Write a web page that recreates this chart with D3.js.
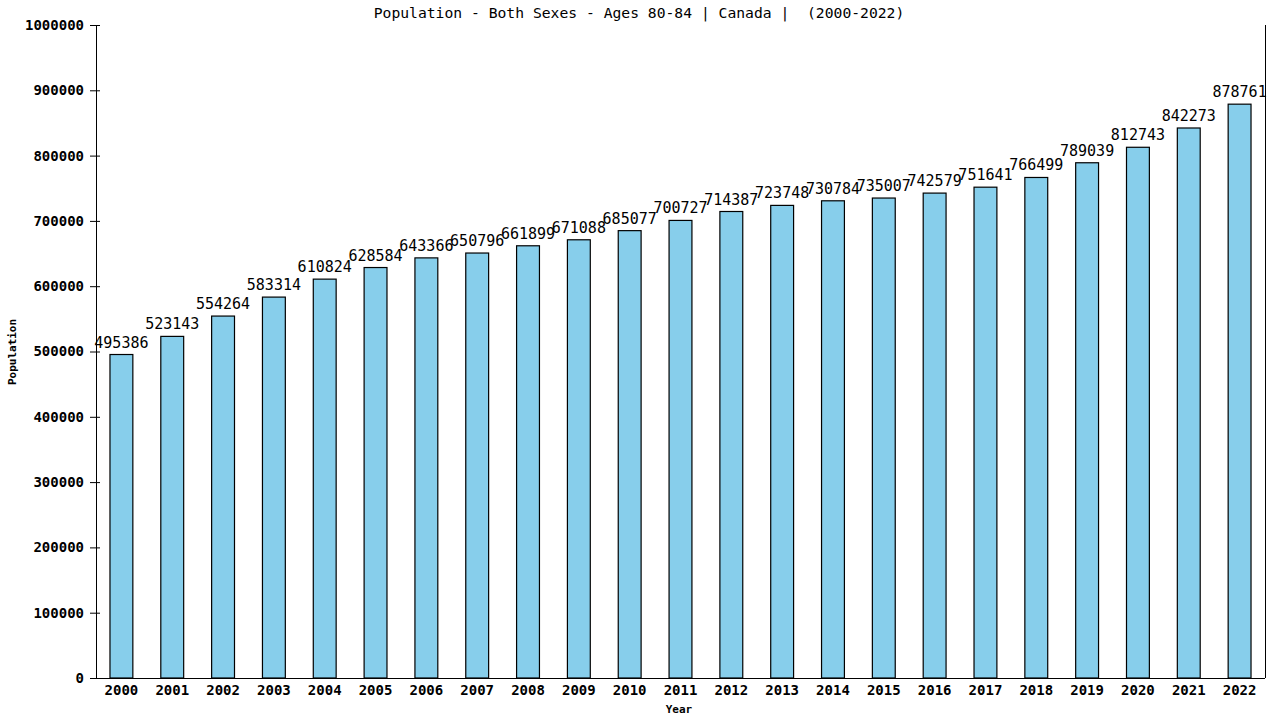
<!DOCTYPE html>
<html><head><meta charset="utf-8">
<script src="https://cdn.jsdelivr.net/npm/d3@7"></script>
<style>body{margin:0;background:#fff}</style>
</head><body>
<svg id="c" width="1280" height="720"></svg>
<script>
const years = ["2000","2001","2002","2003","2004","2005","2006","2007","2008","2009","2010","2011","2012","2013","2014","2015","2016","2017","2018","2019","2020","2021","2022"];
const values = [495386,523143,554264,583314,610824,628584,643366,650796,661899,671088,685077,700727,714387,723748,730784,735007,742579,751641,766499,789039,812743,842273,878761];
const yTicks = [0,100000,200000,300000,400000,500000,600000,700000,800000,900000,1000000];
const title = "Population - Both Sexes - Ages 80-84 | Canada |  (2000-2022)";

const svg = d3.select("#c");
const L = 96, R = 1265, T = 25, B = 678;
const font = "'DejaVu Sans Mono', monospace";
const x = d3.scaleBand().domain(years).range([L, R]).paddingInner(0.55).paddingOuter(0.275);
const y = d3.scaleLinear().domain([0, 1000000]).range([B, T]);

svg.append("g").selectAll("rect").data(values).join("rect")
  .attr("x", (d,i) => x(years[i])).attr("y", d => y(d))
  .attr("width", x.bandwidth()).attr("height", d => B - y(d))
  .attr("fill", "#87CEEB").attr("stroke", "#000").attr("stroke-width", 1.2);

svg.append("g").selectAll("text").data(values).join("text")
  .attr("x", (d,i) => x(years[i]) + x.bandwidth()/2).attr("y", d => y(d) - 7)
  .attr("text-anchor", "middle").attr("font-family", font).attr("font-size", 15)
  .text(d => d);

const ya = svg.append("g").attr("transform", `translate(${L},0)`)
  .call(d3.axisLeft(y).tickValues(yTicks).tickFormat(d3.format("d")).tickSize(6).tickSizeOuter(0));
ya.selectAll(".tick line").attr("x1", 4).attr("x2", -6);
ya.selectAll("text").attr("font-family", font).attr("font-size", 14).attr("font-weight", "bold").attr("x", -12);

const xa = svg.append("g").attr("transform", `translate(0,${B})`)
  .call(d3.axisBottom(x).tickSize(0).tickSizeOuter(0));
xa.select(".domain").attr("d", `M${L},0.5H${R}`);
xa.selectAll("text").attr("font-family", font).attr("font-size", 14).attr("font-weight", "bold").attr("dy", "0.71em").attr("y", 7);
svg.selectAll(".domain").attr("stroke", "#000");

svg.append("line").attr("x1", R+0.5).attr("x2", R+0.5).attr("y1", T).attr("y2", B).attr("stroke", "#000");

svg.append("text").attr("x", 639).attr("y", 18).attr("text-anchor", "middle")
  .attr("font-family", font).attr("font-size", 14.7).attr("xml:space","preserve").text(title);
svg.append("text").attr("x", 679).attr("y", 713).attr("text-anchor", "middle")
  .attr("font-family", font).attr("font-size", 11).attr("font-weight", "bold").text("Year");
svg.append("text").attr("transform", "translate(16,352) rotate(-90)").attr("text-anchor", "middle")
  .attr("font-family", font).attr("font-size", 11).attr("font-weight", "bold").text("Population");
</script>
</body></html>
